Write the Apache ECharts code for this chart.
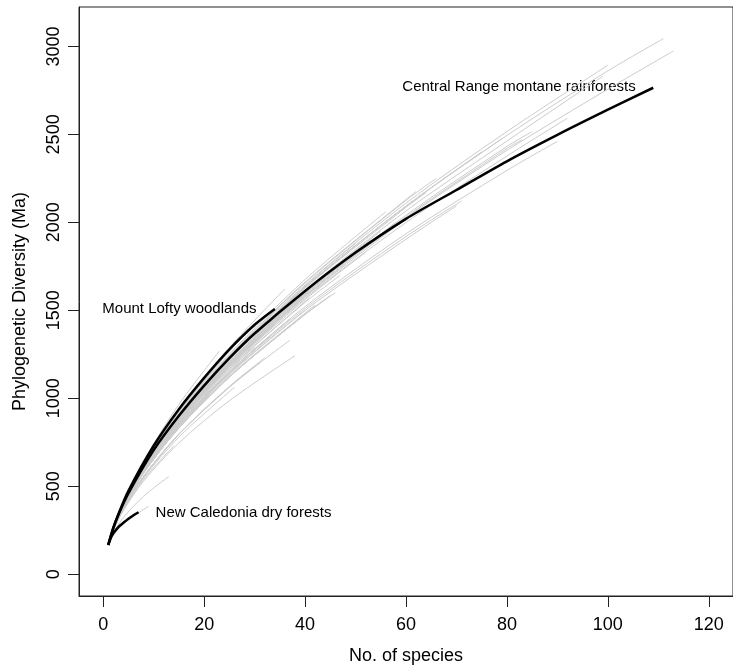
<!DOCTYPE html>
<html>
<head>
<meta charset="utf-8">
<script src="https://cdn.jsdelivr.net/npm/echarts@6.0.0/dist/echarts.min.js"></script>
<style>
  html, body { margin: 0; padding: 0; background: #fff; }
  #main { width: 733px; height: 670px; }
</style>
</head>
<body>
<div id="main"></div>
<script>
// ticks
var xTicks = [0, 20, 40, 60, 80, 100, 120];
var yTicks = [0, 500, 1000, 1500, 2000, 2500, 3000];

// species counts at which the gray curves were read
var sGrid = [1, 2, 4, 8, 15, 25, 40, 60, 80, 100];

// gray curves: PD read at sGrid (only where S < curve end), then the end point
var grayRows = [
  [170,260,398,608,894,1223,1631,2092,2494,2861],
  [170,259,393,598,875,1191,1584,2024,2409,2757],
  [170,260,399,611,899,1231,1644,2109,2516],
  [170,259,396,604,887,1212,1613,2065,2462],
  [170,258,391,594,868,1180,1567,1999,2377],
  [170,257,387,584,849,1151,1521,1935,2295],
  [170,259,394,601,880,1200,1596,2040,2431],
  [170,259,394,600,878,1196,1590,2031,2420],
  [170,260,398,608,894,1223,1631,2092],
  [170,260,398,608,894,1223,1631,2092],
  [170,256,386,582,845,1143,1510,1919],
  [170,256,385,580,840,1136,1499,1904],
  [170,261,400,613,904,1239,1655,2125],
  [170,260,397,607,892,1219,1626,2085],
  [170,261,401,614,906,1242,1660,2130],
  [170,259,394,601,880,1200,1596],
  [170,261,401,617,911,1251,1675],
  [170,259,394,602,882,1203,1600],
  [170,260,399,610,896,1227,1638],
  [170,258,392,597,873,1187,1578],
  [170,255,383,575,831,1121,1477],
  [170,255,383,575,831,1121,1477],
  [170,255,383,575,831,1121,1477],
  [170,255,384,577,834,1126,1484],
  [170,248,362,529,746,986],
  [170,252,375,556,796,1065],
  [170,252,375,557,797,1067],
  [170,263,407,629,934,1288],
  [170,265,414,645,965],
  [170,250,366,538],
  [170,234,322,443],
  [170,220,285,368],
  [170,256,385,580,840,1136],
  [170,258,390,591,862,1170,1550],
  [170,258,391,595,870,1182,1584],
  [170,259,393,598,875,1191],
  [170,259,393,598,875,1191],
  [170,257,387,584,849,1151],
  [170,257,388,586,855,1160],
  [170,256,386,582,845,1143],
  [170,259,393,598,875,1191],
  [170,255,383,575,831],
  [170,258,391,594,868],
  [170,256,384,578,836],
  [170,259,394,602,882],
  [170,252,374,555,795],
  [170,257,388,586,855],
  [170,251,370,547,779,1038],
  [170,252,374,555,795,1062],
  [170,257,387,584,849,1151],
  [170,259,395,603,884,1206,1607],
  [170,258,389,589,859,1166,1545],
  [170,258,391,593,866,1177,1560],
  [170,258,391,594,868,1180],
  [170,258,392,596,872,1185],
  [170,258,393,597,874,1186,1575],
  [170,259,395,603,884,1206,1607],
  [170,261,401,615,907,1239],
  [170,262,404,622,921,1268],
  [170,261,401,615,907,1239],
  [170,262,404,622,921,1268],
  [170,261,401,616,909,1243]
];
var grayEnds = [
  [111,3044],[113,2974],[100,2893],[99,2830],[92,2592],[90,2460],[85,2516],[83,2470],
  [79,2475],[75,2400],[71,2121],[70,2093],[66,2250],[64,2170],[62,2175],[58,2000],
  [56,2060],[53,1900],[50,1880],[48,1760],[46,1600],[45,1585],[44,1560],[42,1530],
  [38,1242],[37,1330],[32,1230],[36,1622],[23,1268],[14,730],[13,555],[9,385],
  [40,1500],[41,1570],[43,1640],[39,1560],[35,1460],[33,1350],[30,1290],[28,1220],
  [27,1250],[25,1120],[24,1150],[21,1020],[20,1050],[18,880],[17,920],[26,1060],
  [31,1200],[37,1450],[44,1700],[47,1700],[52,1830],[34,1420],[29,1300],[60,2020],
  [55,1950],[33,1470],[30,1420],[37,1580],[26,1300],[40,1660]
];

// highlighted curves
var centralS  = [1, 2, 3, 5, 10, 15, 20, 25, 30, 40, 50, 60, 70, 80, 90, 100, 109];
var centralPD = [167, 262, 337, 460, 705, 900, 1072, 1228, 1368, 1610, 1828, 2020, 2184, 2347, 2497, 2640, 2765];
var loftyS  = [1, 2, 3, 5, 10, 15, 20, 25, 30, 34];
var loftyPD = [167, 264, 341, 474, 730, 938, 1116, 1278, 1418, 1508];
var caledS  = [1, 1.5, 2, 3, 4, 5, 6, 7];
var caledPD = [165, 205, 232, 268, 292, 315, 335, 352];

// annotations
var noteText = ['Central Range montane rainforests', 'Mount Lofty woodlands', 'New Caledonia dry forests'];
var noteS  = [82.4, 15.1, 27.8];
var notePD = [2772, 1507, 350];

var FONT = '"Liberation Sans", Arial, sans-serif';

function pairs(xs, ys) {
  var out = [];
  for (var i = 0; i < xs.length; i++) out.push([xs[i], ys[i]]);
  return out;
}

var series = [];
grayRows.forEach(function (row, k) {
  var d = [];
  for (var i = 0; i < row.length; i++) d.push([sGrid[i], row[i]]);
  d.push(grayEnds[k]);
  series.push({
    type: 'line', data: d, smooth: 0.3,
    showSymbol: false, silent: true,
    lineStyle: { color: '#cccccc', width: 1 }
  });
});

[[centralS, centralPD], [loftyS, loftyPD], [caledS, caledPD]].forEach(function (c) {
  series.push({
    type: 'line', data: pairs(c[0], c[1]), smooth: 0.3,
    showSymbol: false, silent: true,
    lineStyle: { color: '#000', width: 2.5 }
  });
});

var notes = [];
for (var i = 0; i < noteText.length; i++) notes.push([noteS[i], notePD[i], noteText[i]]);
series.push({
  type: 'scatter', data: notes, symbolSize: 0, silent: true,
  itemStyle: { opacity: 1 },
  label: {
    show: true, position: 'inside', color: '#000',
    fontFamily: FONT, fontSize: 15,
    formatter: function (p) { return p.value[2]; }
  }
});

var chart = echarts.init(document.getElementById('main'));
chart.setOption({
  animation: false,
  backgroundColor: '#fff',
  grid: { left: 79, top: 7, right: -7, bottom: 71, show: true, borderColor: '#222', borderWidth: 1 },
  xAxis: {
    type: 'value', min: -4.8, max: 124.8,
    name: 'No. of species', nameLocation: 'middle', nameGap: 51,
    nameTextStyle: { fontFamily: FONT, fontSize: 18, color: '#000' },
    axisLine: { show: true, onZero: false, lineStyle: { color: '#222' } },
    axisTick: { show: true, length: 11, customValues: xTicks, lineStyle: { color: '#222' } },
    axisLabel: { customValues: xTicks, fontFamily: FONT, fontSize: 18, color: '#000', margin: 20,
      formatter: function (v) { return String(v); } },
    splitLine: { show: false }
  },
  yAxis: {
    type: 'value', min: -124, max: 3224,
    name: 'Phylogenetic Diversity (Ma)', nameLocation: 'middle', nameGap: 50,
    nameTextStyle: { fontFamily: FONT, fontSize: 18, color: '#000' },
    axisLine: { show: true, onZero: false, lineStyle: { color: '#222' } },
    axisTick: { show: true, length: 11, customValues: yTicks, lineStyle: { color: '#222' } },
    axisLabel: { customValues: yTicks, rotate: 90, fontFamily: FONT, fontSize: 18, color: '#000', margin: 16,
      formatter: function (v) { return String(v); } },
    splitLine: { show: false }
  },
  series: series
});
</script>
</body>
</html>
